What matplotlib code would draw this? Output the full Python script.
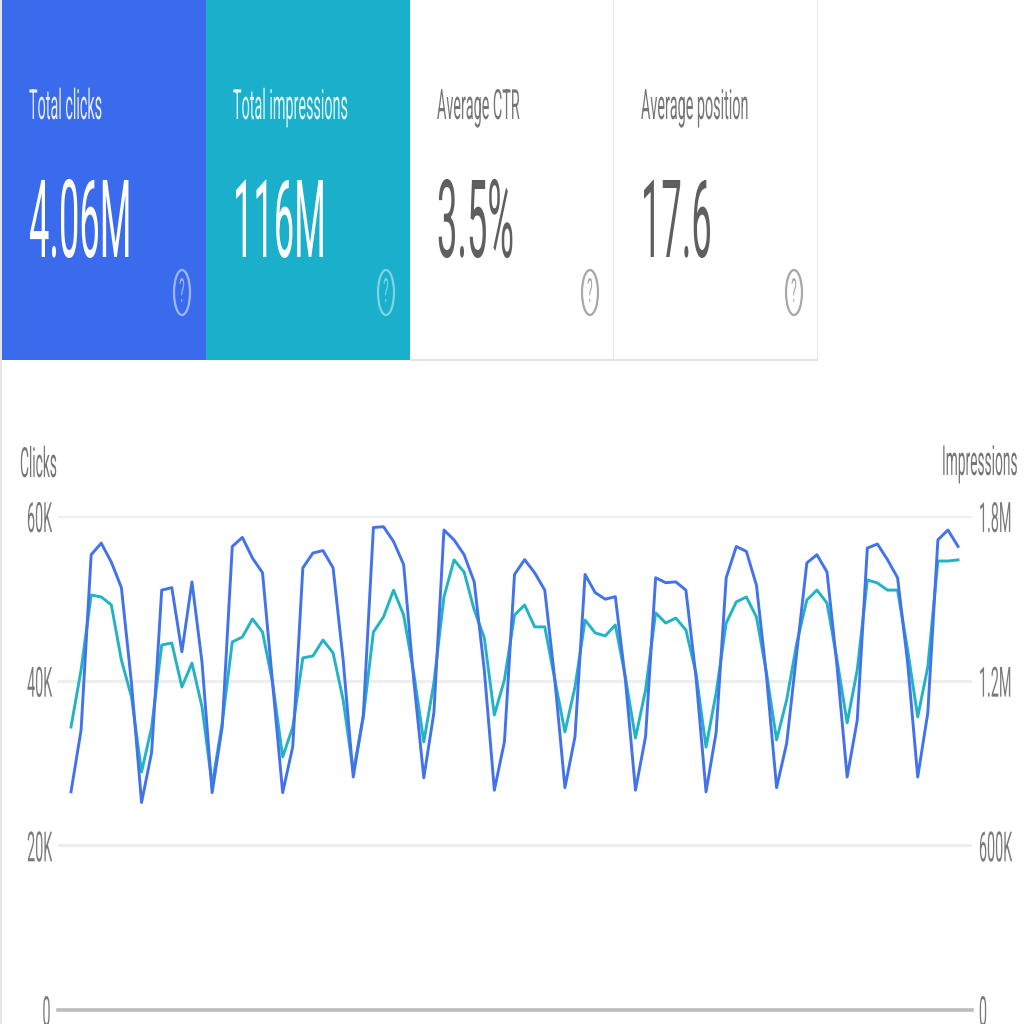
import matplotlib
matplotlib.use("Agg")
import matplotlib.pyplot as plt
from matplotlib.patches import Rectangle, Ellipse
from matplotlib.patheffects import AbstractPathEffect
from matplotlib.text import Text
from matplotlib.transforms import Affine2D, Bbox

clicks_k = [26.5, 34.0, 55.3, 56.7, 54.4, 51.3, 39.7,
            25.2, 31.3, 51.0, 51.3, 43.5, 52.0, 42.2,
            26.4, 34.4, 56.3, 57.4, 54.9, 53.1, 39.7,
            26.4, 32.0, 53.7, 55.5, 55.8, 53.7, 42.5,
            28.3, 35.8, 58.6, 58.7, 56.9, 54.1, 40.1,
            28.2, 36.1, 58.3, 57.1, 55.3, 52.0, 41.3,
            26.7, 32.6, 52.9, 54.7, 53.1, 51.0, 40.1,
            27.0, 33.2, 52.9, 50.7, 49.9, 50.2, 40.1,
            26.7, 33.2, 52.5, 51.9, 52.0, 51.0, 40.5,
            26.5, 33.7, 52.5, 56.3, 55.7, 51.6, 40.5,
            27.0, 32.4, 43.4, 54.3, 55.3, 53.2, 41.7,
            28.3, 35.2, 56.1, 56.6, 54.7, 52.5, 42.2,
            28.3, 36.1, 57.1, 58.3, 56.3]
impressions_k = [1031, 1239, 1512, 1505, 1476, 1275, 1141,
                 867, 1031, 1330, 1337, 1177, 1264, 1104,
                 820, 1046, 1341, 1359, 1425, 1377, 1192,
                 922, 1031, 1283, 1290, 1348, 1301, 1130,
                 867, 1068, 1377, 1432, 1530, 1439, 1228,
                 977, 1192, 1505, 1640, 1596, 1458, 1356,
                 1075, 1203, 1439, 1476, 1396, 1396, 1203,
                 1013, 1177, 1421, 1374, 1363, 1403, 1213,
                 991, 1166, 1447, 1410, 1428, 1385, 1228,
                 958, 1155, 1410, 1487, 1505, 1432, 1228,
                 984, 1130, 1337, 1494, 1530, 1483, 1275,
                 1046, 1239, 1567, 1556, 1530, 1530, 1312,
                 1068, 1250, 1636, 1636, 1640]
days = list(range(len(clicks_k)))

card_titles = ["Total clicks", "Total impressions", "Average CTR", "Average position"]
card_values = ["4.06M", "116M", "3.5%", "17.6"]
clicks_ticks = [0, 20, 40, 60]
clicks_labels = ["0", "20K", "40K", "60K"]
impr_ticks = [0, 600, 1200, 1800]
impr_labels = ["0", "600K", "1.2M", "1.8M"]

BLUE = "#3a6bec"
TEAL = "#1aafca"
LINE_BLUE = "#4273ec"
LINE_TEAL = "#22b4c4"
SQUEEZE = 0.345


class Squeeze(AbstractPathEffect):
    """Narrow the glyphs of a text horizontally about its anchor."""

    def __init__(self, sx=SQUEEZE, anchor="left"):
        super().__init__()
        self.sx = sx
        self.anchor = anchor

    def draw_path(self, renderer, gc, tpath, affine, rgbFace=None):
        ext = tpath.get_extents()
        local_x = {"left": 0.0, "right": ext.x1, "center": (ext.x0 + ext.x1) / 2}[self.anchor]
        px, _ = affine.transform_point((local_x, 0))
        new = affine + Affine2D().translate(-px, 0).scale(self.sx, 1).translate(px, 0)
        renderer.draw_path(gc, tpath, new, rgbFace)


_orig_extent = Text.get_window_extent


def _squeezed_extent(self, renderer=None, dpi=None):
    """Report the extent a squeezed text really occupies."""
    bb = _orig_extent(self, renderer, dpi)
    for pe in self.get_path_effects():
        if isinstance(pe, Squeeze):
            pivot = {"left": bb.x0, "right": bb.x1, "center": (bb.x0 + bb.x1) / 2}[pe.anchor]
            return Bbox.from_extents(pivot + (bb.x0 - pivot) * pe.sx, bb.y0,
                                     pivot + (bb.x1 - pivot) * pe.sx, bb.y1)
    return bb


Text.get_window_extent = _squeezed_extent

plt.rcParams["font.family"] = ["Roboto", "DejaVu Sans"]
W = 1024
fig = plt.figure(figsize=(W / 100, W / 100), dpi=100, facecolor="white")

# page overlay in pixel coordinates
page = fig.add_axes([0, 0, 1, 1])
page.set_xlim(0, W)
page.set_ylim(W, 0)
page.axis("off")

page.add_patch(Rectangle((0, 0), 2, W, fc="#e6e6e6", ec="none"))
page.add_patch(Rectangle((2, 0), 204, 360, fc=BLUE, ec="none"))
page.add_patch(Rectangle((206, 0), 204, 360, fc=TEAL, ec="none"))
page.add_patch(Rectangle((410, 358.5), 408, 2.5, fc="#e4e4e4", ec="none"))
page.add_patch(Rectangle((612.5, 0), 1.2, 360, fc="#e4e4e4", ec="none"))
page.add_patch(Rectangle((817, 0), 1.4, 360, fc="#e4e4e4", ec="none"))

card_x = [29, 233, 437, 641]
icon_x = [182, 386, 590, 794]
title_colors = ["#e6edfd", "#e3f6f9", "#757575", "#757575"]
value_colors = ["white", "white", "#5f5f5f", "#5f5f5f"]
icon_colors = ["#9db7f6", "#7fd3e3", "#a8a8a8", "#a8a8a8"]
for x, ix, title, value, tc, vc, ic in zip(card_x, icon_x, card_titles, card_values,
                                           title_colors, value_colors, icon_colors):
    page.text(x, 119, title, fontsize=30, color=tc, va="baseline", ha="left",
              path_effects=[Squeeze()])
    page.text(x, 257, value, fontsize=78, color=vc, va="baseline", ha="left",
              path_effects=[Squeeze(0.335)])
    page.add_patch(Ellipse((ix, 292.5), 16, 45, fc="none", ec=ic, lw=1.6))
    page.text(ix, 302, "?", fontsize=24, color=ic, va="baseline", ha="center",
              path_effects=[Squeeze(anchor="center")])

page.text(20, 477, "Clicks", fontsize=30, color="#757575", va="baseline", ha="left",
          path_effects=[Squeeze(0.33)])
page.text(942, 475, "Impressions", fontsize=30, color="#757575", va="baseline", ha="left",
          path_effects=[Squeeze(0.33)])

# chart
L, R, TOP, BOT = 58, 972, 516, 1010
ax = fig.add_axes([L / W, 1 - BOT / W, (R - L) / W, (BOT - TOP) / W])
ax.patch.set_alpha(0)
x0, dx = 71, 10.08
ax.set_xlim((L - x0) / dx, (R - x0) / dx)
ax.set_ylim(0, 60)
ax.set_xticks([])
ax.set_yticks(clicks_ticks, clicks_labels)
ax.grid(axis="y", color="#eeeeee", lw=2.2)
ax.set_axisbelow(True)
for s in ax.spines.values():
    s.set_visible(False)
ax.tick_params(axis="y", length=0, pad=4.3, labelsize=30, labelcolor="#7a7a7a")
for t in ax.get_yticklabels():
    t.set_path_effects([Squeeze(anchor="right")])
ax.axhline(0, color="#bdbdbd", lw=2.6, zorder=1.5, clip_on=False)

ax2 = ax.twinx()
ax2.set_ylim(0, 1800)
ax2.set_yticks(impr_ticks, impr_labels)
for s in ax2.spines.values():
    s.set_visible(False)
ax2.plot(days, impressions_k, color=LINE_TEAL, lw=2.1, zorder=3, solid_joinstyle="round")

blue_ax = ax2.twinx()
blue_ax.set_ylim(0, 60)
blue_ax.axis("off")
blue_ax.plot(days, clicks_k, color=LINE_BLUE, lw=2.1, zorder=4, solid_joinstyle="round")

# the extra twin moves the impressions ticks to the left; put them back on the right
ax2.yaxis.tick_right()
ax2.tick_params(axis="y", length=0, pad=5, labelsize=30, labelcolor="#7a7a7a")
for t in ax2.get_yticklabels():
    t.set_path_effects([Squeeze(anchor="left")])

fig.savefig("out.png", dpi=100)
